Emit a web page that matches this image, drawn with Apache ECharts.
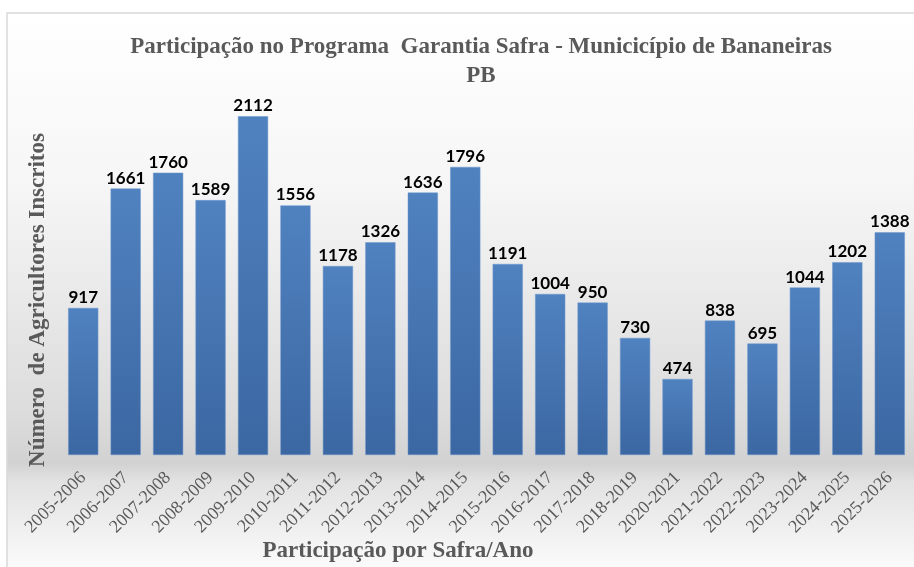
<!DOCTYPE html>
<html>
<head>
    <meta charset="UTF-8">
    <title>Garantia Safra - Bananeiras</title>
    <script src="https://cdn.jsdelivr.net/npm/echarts@6/dist/echarts.min.js"></script>
    <style>
        html, body { margin: 0; padding: 0; background: #ffffff; }
    </style>
</head>
<body>

<div id="main" style="width: 914px;height:567px"></div>

<script type="text/javascript">
    // safras (sem 2019-2020 no original)
    var safras = ['2005-2006', '2006-2007', '2007-2008', '2008-2009', '2009-2010',
        '2010-2011', '2011-2012', '2012-2013', '2013-2014', '2014-2015',
        '2015-2016', '2016-2017', '2017-2018', '2018-2019', '2020-2021',
        '2021-2022', '2022-2023', '2023-2024', '2024-2025', '2025-2026'];
    var inscritos = [917, 1661, 1760, 1589, 2112, 1556, 1178, 1326, 1636, 1796,
        1191, 1004, 950, 730, 474, 838, 695, 1044, 1202, 1388];

    var serif = '"Liberation Serif", "Times New Roman", serif';
    var cinza = '#595959';

    var myChart = echarts.init(document.getElementById('main'));
    var option = {
        animation: false,
        graphic: [
            {
                type: 'rect',
                z: -10,
                shape: { x: 7, y: 13, width: 920, height: 570 },
                style: {
                    fill: new echarts.graphic.LinearGradient(0, 0, 0, 1, [
                        { offset: 0, color: '#ffffff' },
                        { offset: 0.3, color: '#f6f6f6' },
                        { offset: 0.7, color: '#dcdcdc' },
                        { offset: 0.79, color: '#d2d2d2' },
                        { offset: 0.82, color: '#e2e2e2' },
                        { offset: 1, color: '#ffffff' }
                    ]),
                    stroke: '#d9d9d9',
                    lineWidth: 1.5
                }
            },
            {
                type: 'text',
                x: 481, y: 47,
                style: {
                    text: 'Participação no Programa  Garantia Safra - Municicípio de Bananeiras',
                    font: 'bold 23px ' + serif,
                    fill: cinza,
                    align: 'center',
                    verticalAlign: 'middle'
                }
            },
            {
                type: 'text',
                x: 481, y: 76,
                style: {
                    text: 'PB',
                    font: 'bold 23px ' + serif,
                    fill: cinza,
                    align: 'center',
                    verticalAlign: 'middle'
                }
            },
            {
                type: 'text',
                x: 38, y: 300,
                rotation: Math.PI / 2,
                style: {
                    text: 'Número  de Agricultores Inscritos',
                    font: 'bold 23px ' + serif,
                    fill: cinza,
                    align: 'center',
                    verticalAlign: 'middle'
                }
            },
            {
                type: 'text',
                x: 398, y: 551,
                style: {
                    text: 'Participação por Safra/Ano',
                    font: 'bold 23px ' + serif,
                    fill: cinza,
                    align: 'center',
                    verticalAlign: 'middle'
                }
            }
        ],
        grid: {
            left: 62,
            right: 3,
            top: 54,
            bottom: 112
        },
        xAxis: {
            type: 'category',
            data: safras,
            axisLine: { show: false },
            axisTick: { show: false },
            axisLabel: {
                interval: 0,
                rotate: 45,
                margin: 20,
                fontFamily: serif,
                fontSize: 18,
                color: cinza
            }
        },
        yAxis: {
            type: 'value',
            min: 0,
            max: 2500,
            show: false,
            splitLine: { show: false }
        },
        series: [{
            type: 'bar',
            data: inscritos,
            barCategoryGap: '29%',
            itemStyle: {
                color: new echarts.graphic.LinearGradient(0, 0, 0, 1, [
                    { offset: 0, color: '#5082c0' },
                    { offset: 1, color: '#3b67a2' }
                ]),
                borderColor: '#6e97cc',
                borderWidth: 0.5
            },
            label: {
                show: true,
                position: 'top',
                distance: 2,
                fontFamily: 'Lato, "Noto Sans", sans-serif',
                fontWeight: 'bold',
                fontSize: 17,
                color: '#000000'
            }
        }]
    };
    myChart.setOption(option);
</script>
</body>
</html>
